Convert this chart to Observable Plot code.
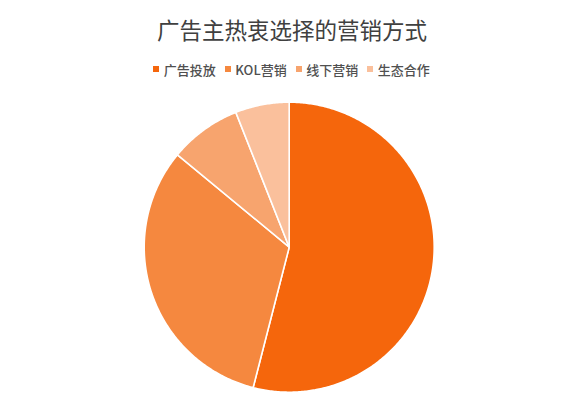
<!DOCTYPE html>
<html>
<head>
<meta charset="utf-8">
<script src="https://cdn.jsdelivr.net/npm/d3@7"></script>
<script src="https://cdn.jsdelivr.net/npm/@observablehq/plot@0.6"></script>
<style>
  html, body { margin: 0; padding: 0; background: #fff; }
  body { width: 583px; height: 403px; overflow: hidden; font-family: "Noto Sans CJK SC", "Noto Sans", sans-serif; }
  #title { height: 52px; line-height: 52px; text-align: center; font-size: 22.5px; color: #404040; padding-left: 1px; padding-top: 3px; box-sizing: border-box; }
  #legend { height: 33px; display: flex; justify-content: center; align-items: center; font-size: 13px; font-weight: 500; color: #505050; padding-top: 1px; box-sizing: border-box; }
  .item { display: flex; align-items: center; margin: 0 4.5px; }
  .sw { width: 6px; height: 6px; margin-right: 4.5px; }
  #chart svg { display: block; }
</style>
</head>
<body>
<div id="title">广告主热衷选择的营销方式</div>
<div id="legend"></div>
<div id="chart"></div>
<script>
const categories = ["广告投放", "KOL营销", "线下营销", "生态合作"];
const values = [54, 32, 8, 6];
const colors = ["#F5660C", "#F5883F", "#F7A46E", "#FAC09C"];

const arcs = d3.pie().sort(null).value(d => d)(values);
const pts = [];
arcs.forEach((a, i) => {
  const cat = categories[i];
  pts.push({cat, x: 0, y: 0});
  const n = Math.max(2, Math.ceil((a.endAngle - a.startAngle) / 0.01));
  for (let k = 0; k <= n; k++) {
    const t = a.startAngle + (a.endAngle - a.startAngle) * k / n;
    pts.push({cat, x: Math.sin(t), y: Math.cos(t)});
  }
  pts.push({cat, x: 0, y: 0});
});

const cx = 288.7, cy = 161.7, r = 145;
const plot = Plot.plot({
  width: 583,
  height: 318,
  margin: 0,
  x: {domain: [-1, 1], range: [cx - r, cx + r], axis: null},
  y: {domain: [-1, 1], range: [cy + r, cy - r], axis: null},
  color: {domain: categories, range: colors},
  marks: [
    Plot.line(pts, {x: "x", y: "y", z: "cat", fill: "cat", stroke: "white", strokeWidth: 1.6, strokeLinejoin: "round"})
  ]
});
document.getElementById("chart").appendChild(plot);

const colorScale = plot.scale("color");
const lg = document.getElementById("legend");
categories.forEach(c => {
  const it = document.createElement("div");
  it.className = "item";
  const sw = document.createElement("span");
  sw.className = "sw";
  sw.style.background = colorScale.apply(c);
  const tx = document.createElement("span");
  tx.textContent = c;
  it.appendChild(sw); it.appendChild(tx);
  lg.appendChild(it);
});
</script>
</body>
</html>
